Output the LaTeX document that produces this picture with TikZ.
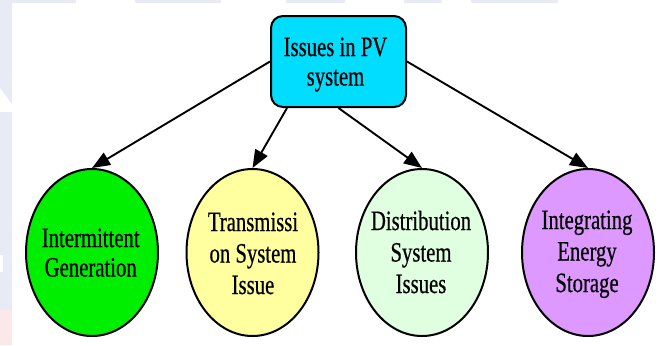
\documentclass[tikz,border=0pt]{standalone}
\usepackage{fontspec}
\usetikzlibrary{shapes.geometric,arrows.meta}
\newfontfamily\tnr{Liberation Serif}[FakeStretch=0.74,FakeBold=0.5]
\definecolor{wmblue}{RGB}{232,235,245}
\definecolor{wmpink}{RGB}{252,232,234}
\definecolor{cyanbox}{RGB}{0,221,255}
\definecolor{cgreen}{RGB}{0,238,0}
\definecolor{cyellow}{RGB}{255,255,160}
\definecolor{clgreen}{RGB}{224,255,224}
\definecolor{cpurple}{RGB}{221,153,255}
\newcommand{\lines}[1]{\begin{tabular}[t]{@{}c@{}}#1\end{tabular}}
\begin{document}
\begin{tikzpicture}[x=1bp,y=-1bp,
  txt/.style={font=\tnr\fontsize{28bp}{31.5bp}\selectfont, text=black, inner sep=0pt, anchor=base},
  txttwo/.style={txt, font=\tnr\fontsize{28bp}{29.5bp}\selectfont},
  rootbox/.style={draw=black, line width=2bp, fill=cyanbox, rounded corners=12bp,
    minimum width=135bp, minimum height=91bp, inner sep=0pt},
  leaf/.style={draw=black, line width=2bp, ellipse, minimum width=132bp,
    minimum height=167bp, inner sep=0pt},
  edge/.style={line width=1.9bp, -{Triangle[length=18bp,width=14bp]}}]
\useasboundingbox (0,0) rectangle (660,345);
% faint watermark background
\fill[wmblue] (0,0) rectangle (76,2.5);
\fill[wmblue] (135,0) rectangle (221,2.5);
\fill[wmblue] (286,0) rectangle (345,2.5);
\fill[wmblue] (404,0) rectangle (442,2.5);
\fill[wmblue] (471,0) rectangle (558,2.5);
\fill[wmblue] (0,0) -- (12,0) -- (12,104) -- (0,88) -- cycle;
\fill[wmblue] (0,112) -- (12,112) -- (12,310) -- (0,310) -- (0,272) -- (3,272) -- (3,255) -- (0,255) -- cycle;
\fill[wmpink] (0,310) rectangle (12,345);
% shapes
\node[rootbox] (root) at (338.5,61.5) {};
\node[leaf, fill=cgreen] (ig) at (92,252.5) {};
\node[leaf, fill=cyellow] (ts) at (252.5,252.5) {};
\node[leaf, fill=clgreen] (ds) at (422,252.5) {};
\node[leaf, fill=cpurple] (es) at (588,252.5) {};
% texts
\node[txttwo] (roott) at (335.5,56) {\lines{Issues in PV\\system}};
\node[txttwo] (igt) at (90.7,247) {\lines{Intermittent\\Generation}};
\node[txt] (tst) at (253,231) {\lines{Transmissi\\on System\\Issue}};
\node[txt] (dst) at (421,230) {\lines{Distribution\\System\\Issues}};
\node[txt] (est) at (587,229) {\lines{Integrating\\Energy\\Storage}};
% connectors
\draw[edge] (root.west) -- (ig.north);
\draw[edge] ([xshift=17bp]root.south west) -- (ts.north);
\draw[edge] (root.south) -- (ds.north);
\draw[edge] (root.east) -- (es.north);
\end{tikzpicture}
\end{document}
